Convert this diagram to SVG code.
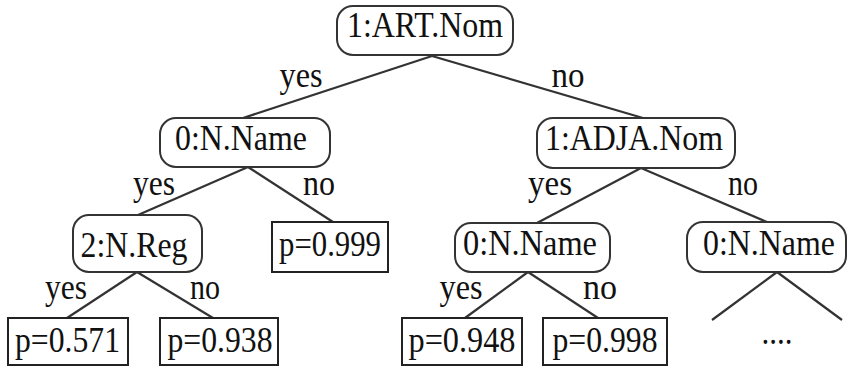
<svg xmlns="http://www.w3.org/2000/svg" width="849" height="367" viewBox="0 0 849 367">
<style>
.n{fill:#fff;stroke:#333;stroke-width:2}
.l{fill:#fff;stroke:#222;stroke-width:2}
.e{stroke:#333;stroke-width:2.2;fill:none}
text{font-family:"Liberation Serif","Times New Roman",serif;font-size:35px;fill:#111;text-anchor:middle}
</style>
<rect width="849" height="367" fill="#fff"/>
<g id="edges">
<line class="e" x1="432" y1="56" x2="243" y2="118"/>
<line class="e" x1="432" y1="56" x2="643" y2="118"/>
<line class="e" x1="248" y1="167" x2="138" y2="215"/>
<line class="e" x1="248" y1="167" x2="333" y2="222"/>
<line class="e" x1="641" y1="168" x2="537" y2="223"/>
<line class="e" x1="641" y1="168" x2="767" y2="222"/>
<line class="e" x1="137" y1="272" x2="67" y2="318"/>
<line class="e" x1="137" y1="272" x2="213" y2="318"/>
<line class="e" x1="528" y1="272" x2="465" y2="318"/>
<line class="e" x1="528" y1="272" x2="598" y2="318"/>
<line class="e" x1="777" y1="272" x2="712" y2="320"/>
<line class="e" x1="777" y1="272" x2="842" y2="320"/>
<text x="301" y="87" textLength="43" lengthAdjust="spacingAndGlyphs">yes</text>
<text x="568" y="87" textLength="33" lengthAdjust="spacingAndGlyphs">no</text>
<text x="154" y="195" textLength="42" lengthAdjust="spacingAndGlyphs">yes</text>
<text x="319" y="195" textLength="32" lengthAdjust="spacingAndGlyphs">no</text>
<text x="550" y="195" textLength="44" lengthAdjust="spacingAndGlyphs">yes</text>
<text x="743" y="195" textLength="30" lengthAdjust="spacingAndGlyphs">no</text>
<text x="66" y="299" textLength="42" lengthAdjust="spacingAndGlyphs">yes</text>
<text x="205" y="299" textLength="30" lengthAdjust="spacingAndGlyphs">no</text>
<text x="461" y="299" textLength="43" lengthAdjust="spacingAndGlyphs">yes</text>
<text x="600" y="299" textLength="34" lengthAdjust="spacingAndGlyphs">no</text>
<text x="777" y="344" textLength="31" lengthAdjust="spacingAndGlyphs">....</text>
</g>
<g id="n1"><rect class="n" x="337" y="6" width="176" height="49" rx="16"/><text x="425" y="37" textLength="156" lengthAdjust="spacingAndGlyphs">1:ART.Nom</text></g>
<g id="n2"><rect class="n" x="160" y="118" width="170" height="49" rx="16"/><text x="241" y="150" textLength="132" lengthAdjust="spacingAndGlyphs">0:N.Name</text></g>
<g id="n3"><rect class="n" x="537" y="118" width="198" height="50" rx="16"/><text x="634" y="150" textLength="178" lengthAdjust="spacingAndGlyphs">1:ADJA.Nom</text></g>
<g id="n4"><rect class="n" x="73" y="215" width="129" height="57" rx="16"/><text x="134" y="257" textLength="107" lengthAdjust="spacingAndGlyphs">2:N.Reg</text></g>
<g id="n5"><rect class="l" x="272" y="222" width="116" height="50"/><text x="330" y="256" textLength="102" lengthAdjust="spacingAndGlyphs">p=0.999</text></g>
<g id="n6"><rect class="n" x="455" y="223" width="155" height="49" rx="16"/><text x="530" y="255" textLength="134" lengthAdjust="spacingAndGlyphs">0:N.Name</text></g>
<g id="n7"><rect class="n" x="687" y="222" width="159" height="50" rx="16"/><text x="769" y="255" textLength="132" lengthAdjust="spacingAndGlyphs">0:N.Name</text></g>
<g id="n8"><rect class="l" x="8" y="318" width="120" height="47"/><text x="67.5" y="352" textLength="105" lengthAdjust="spacingAndGlyphs">p=0.571</text></g>
<g id="n9"><rect class="l" x="160" y="318" width="118" height="47"/><text x="220" y="352" textLength="105" lengthAdjust="spacingAndGlyphs">p=0.938</text></g>
<g id="n10"><rect class="l" x="402" y="318" width="120" height="47"/><text x="462" y="352" textLength="107" lengthAdjust="spacingAndGlyphs">p=0.948</text></g>
<g id="n11"><rect class="l" x="543" y="318" width="124" height="47"/><text x="605" y="352" textLength="105" lengthAdjust="spacingAndGlyphs">p=0.998</text></g>
</svg>
